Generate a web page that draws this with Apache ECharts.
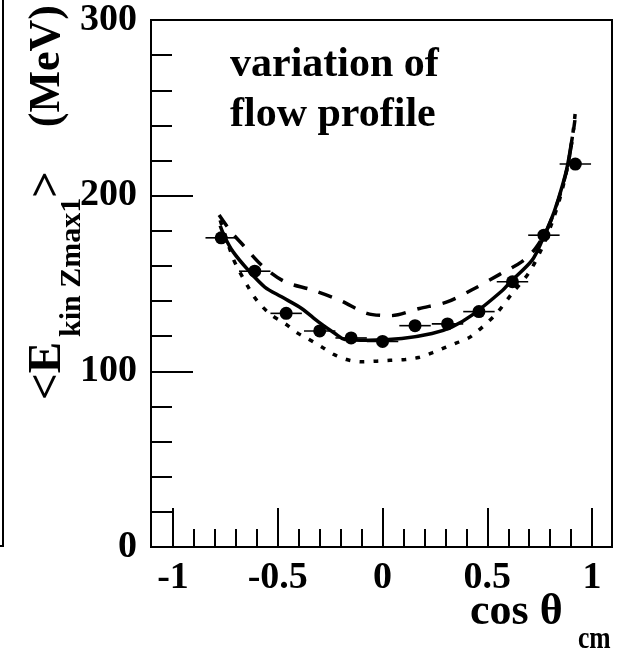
<!DOCTYPE html>
<html>
<head>
<meta charset="utf-8">
<script src="https://cdn.jsdelivr.net/npm/echarts@6/dist/echarts.min.js"></script>
<style>
html,body{margin:0;padding:0;background:#fff;}
#chart{width:623px;height:655px;}
</style>
</head>
<body>
<div id="chart"></div>
<script>
// ---- data ----
const cosTheta = [-0.77, -0.61, -0.46, -0.30, -0.15, 0.0, 0.155, 0.31, 0.46, 0.62, 0.77, 0.92];
const eKin     = [176, 157, 133, 123, 119, 117, 126, 127, 134, 151, 177.5, 218];
const xErr     = [0.075, 0.075, 0.075, 0.075, 0.075, 0.075, 0.075, 0.075, 0.075, 0.075, 0.075, 0.075];

const solidX = [-0.775, -0.753, -0.713, -0.641, -0.562, -0.482, -0.386, -0.306, -0.227, -0.179, -0.067, 0.092, 0.236, 0.332, 0.427, 0.572, 0.611, 0.714, 0.762, 0.81, 0.842, 0.874, 0.89, 0.906];
const solidY = [183, 176.5, 168, 157.6, 148, 142.4, 135.8, 128.1, 121.5, 118.1, 117.7, 118.7, 121.5, 125.3, 132, 146, 151, 163.3, 174.6, 188, 199.3, 212.6, 222, 233.5];

const dashX = [-0.78, -0.72, -0.665, -0.577, -0.466, -0.338, -0.2, -0.075, 0.04, 0.176, 0.308, 0.427, 0.559, 0.667, 0.73, 0.79, 0.84, 0.88, 0.905, 0.918];
const dashY = [189, 179, 171.8, 160.4, 151, 146.4, 140.3, 133, 131.7, 135.8, 139.5, 146.4, 155.2, 162.6, 170, 182, 198, 215, 232, 243];

const dotX = [-0.775, -0.713, -0.686, -0.646, -0.613, -0.573, -0.53, -0.461, -0.407, -0.354, -0.29, -0.234, -0.171, -0.099, -0.027, 0.036, 0.108, 0.172, 0.236, 0.3, 0.364, 0.419, 0.539, 0.619, 0.698, 0.76, 0.81, 0.85, 0.88, 0.9, 0.914, 0.922];
const dotY = [186, 164.2, 157.6, 149, 142.4, 136.7, 132, 126.8, 121.9, 118.4, 113.9, 109.7, 106.7, 105.4, 105.8, 106.3, 106.7, 107.9, 110.5, 113.6, 116.7, 119.6, 132.3, 144.5, 156, 170, 185, 200, 215, 228, 241, 250];

const xMajorTicks = [-1, -0.5, 0, 0.5, 1];
const xMinorTicks = [-0.9, -0.8, -0.7, -0.6, -0.4, -0.3, -0.2, -0.1, 0.1, 0.2, 0.3, 0.4, 0.6, 0.7, 0.8, 0.9];

const annotation = ['variation of', 'flow profile'];
const yTitle = ['<E', 'kin Zmax1', '>', '(MeV)'];
const xTitle = ['cos θ', 'cm'];

// ---- chart ----
const pair = (xs, ys) => xs.map((x, i) => [x, ys[i]]);
const FONT = '"Liberation Serif", "Times New Roman", serif';
const R = Math.PI / 2;
const txt = (s, fs, extra) => Object.assign({text: s, fontSize: fs, fontWeight: 'bold', fontFamily: FONT, fill: '#000'}, extra || {});

const chart = echarts.init(document.getElementById('chart'), null, {renderer: 'canvas'});

const option = {
  animation: false,
  backgroundColor: '#fff',
  grid: {left: 151, right: 11, top: 20, bottom: 108, containLabel: false, outerBoundsMode: 'none',
         show: true, borderColor: '#000', borderWidth: 2, backgroundColor: 'transparent'},
  xAxis: [
    {
      type: 'value', min: -1.105, max: 1.095, position: 'bottom',
      axisLine: {show: true, onZero: false, lineStyle: {color: '#000', width: 2}},
      axisTick: {show: true, inside: true, length: 18, customValues: xMinorTicks, lineStyle: {color: '#000', width: 2}},
      axisLabel: {show: false},
      splitLine: {show: false}
    },
    {
      type: 'value', min: -1.105, max: 1.095, position: 'bottom',
      axisLine: {show: false, onZero: false},
      axisTick: {show: true, inside: true, length: 39, customValues: xMajorTicks, lineStyle: {color: '#000', width: 2}},
      axisLabel: {show: true, customValues: xMajorTicks, margin: 12, color: '#000', fontSize: 38, fontWeight: 'bold', fontFamily: FONT},
      splitLine: {show: false}
    }
  ],
  yAxis: [
    {
      type: 'value', min: 0, max: 300, interval: 20,
      axisLine: {show: true, onZero: false, lineStyle: {color: '#000', width: 2}},
      axisTick: {show: true, inside: true, length: 21, lineStyle: {color: '#000', width: 2}},
      axisLabel: {show: false},
      splitLine: {show: false}
    },
    {
      type: 'value', min: 0, max: 300, interval: 100, position: 'left',
      axisLine: {show: false, onZero: false},
      axisTick: {show: true, inside: true, length: 42, lineStyle: {color: '#000', width: 2}},
      axisLabel: {show: true, margin: 14, color: '#000', fontSize: 38, fontWeight: 'bold', fontFamily: FONT},
      splitLine: {show: false}
    }
  ],
  series: [
    {
      name: 'solid', type: 'line', data: pair(solidX, solidY), showSymbol: false, smooth: 0.3,
      lineStyle: {color: '#000', width: 3.5, type: 'solid'}, z: 3
    },
    {
      name: 'dashed', type: 'line', data: pair(dashX, dashY), showSymbol: false, smooth: 0.3,
      lineStyle: {color: '#000', width: 3.5, type: [14, 12], cap: 'butt'}, z: 3
    },
    {
      name: 'dotted', type: 'line', data: pair(dotX, dotY), showSymbol: false, smooth: 0.3,
      lineStyle: {color: '#000', width: 3.5, type: [5, 9], cap: 'butt'}, z: 3
    },
    {
      name: 'errors', type: 'custom',
      data: cosTheta.map((x, i) => [x, eKin[i], xErr[i]]),
      renderItem: function (params, api) {
        const x = api.value(0), y = api.value(1), e = api.value(2);
        const p1 = api.coord([x - e, y]);
        const p2 = api.coord([x + e, y]);
        return {type: 'line', shape: {x1: p1[0], y1: p1[1], x2: p2[0], y2: p2[1]}, style: {stroke: '#000', lineWidth: 1.6}};
      },
      z: 4
    },
    {
      name: 'data', type: 'scatter', data: pair(cosTheta, eKin), symbol: 'circle', symbolSize: 13,
      itemStyle: {color: '#000', opacity: 1}, z: 5
    }
  ],
  graphic: [
    {
      type: 'text', left: 230, top: 40,
      style: txt(annotation.join('\n'), 42, {lineHeight: 50})
    },
    // y-axis title, rotated to read bottom-to-top
    {type: 'text', x: 48, y: 400, rotation: R, style: txt(yTitle[0], 47, {align: 'left', verticalAlign: 'middle'})},
    {type: 'text', x: 72, y: 337, rotation: R, style: txt(yTitle[1], 30, {align: 'left', verticalAlign: 'middle'})},
    {type: 'text', x: 48, y: 198, rotation: R, style: txt(yTitle[2], 47, {align: 'left', verticalAlign: 'middle'})},
    {type: 'text', x: 48, y: 5, rotation: R, style: txt(yTitle[3], 44, {align: 'right', verticalAlign: 'middle'})},
    // x-axis title
    {type: 'text', x: 470, y: 613, style: txt(xTitle[0], 44, {align: 'left', verticalAlign: 'middle'})},
    {type: 'text', x: 578, y: 640, scaleX: 0.8, style: txt(xTitle[1], 32, {align: 'left', verticalAlign: 'middle'})},
    // edge of the neighbouring panel
    {
      type: 'polyline', shape: {points: [[3, 0], [3, 546], [0, 546]]},
      style: {stroke: '#000', lineWidth: 2, fill: null}
    }
  ]
};
chart.setOption(option);
</script>
</body>
</html>
